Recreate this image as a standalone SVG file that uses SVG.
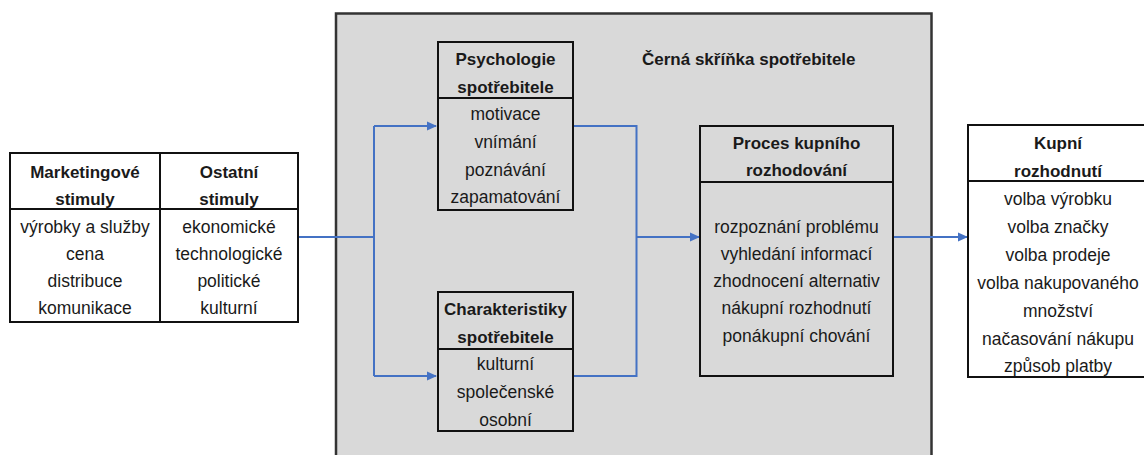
<svg xmlns="http://www.w3.org/2000/svg" width="1144" height="455" viewBox="0 0 1144 455">
<defs>
<style>
text{font-family:"Liberation Sans",Arial,sans-serif;font-size:17.5px;fill:#1a1a1a;text-anchor:middle;dominant-baseline:central}
.b{font-weight:bold;font-size:17px}
.box{fill:#fff;stroke:#111;stroke-width:2}
.gbox{fill:#d9d9d9;stroke:#111;stroke-width:2}
.ln{fill:none;stroke:#111;stroke-width:2}
.c{fill:none;stroke:#4472c4;stroke-width:2}
</style>
<marker id="ar" markerWidth="10" markerHeight="10" refX="9" refY="5" orient="auto" markerUnits="userSpaceOnUse">
<path d="M0,0.5 L10,5 L0,9.5 Z" fill="#4472c4"/>
</marker>
</defs>
<rect width="1144" height="455" fill="#fff"/>
<g id="black-box">
<rect x="336" y="13.5" width="595.5" height="450" fill="#d9d9d9" stroke="#333" stroke-width="2.5"/>
<text class="b" x="642" y="59" style="text-anchor:start">Černá skříňka spotřebitele</text>
</g>
<g id="connectors">
<path class="c" d="M298,237 H374"/>
<path class="c" d="M374,126 V376"/>
<path class="c" d="M374,126 H436" marker-end="url(#ar)"/>
<path class="c" d="M374,376 H436" marker-end="url(#ar)"/>
<path class="c" d="M573,126 H636.5 V376 H573"/>
<path class="c" d="M636.5,237 H699" marker-end="url(#ar)"/>
<path class="c" d="M893,237 H967" marker-end="url(#ar)"/>
</g>
<g id="stimuli">
<rect class="box" x="10" y="153" width="288" height="169"/>
<path class="ln" d="M10,209 H298 M160,153 V322"/>
<text class="b" x="85" y="172">Marketingové</text>
<text class="b" x="85" y="199">stimuly</text>
<text x="85" y="227">výrobky a služby</text>
<text x="85" y="254">cena</text>
<text x="85" y="281">distribuce</text>
<text x="85" y="308">komunikace</text>
<text class="b" x="229" y="172">Ostatní</text>
<text class="b" x="229" y="199">stimuly</text>
<text x="229" y="227">ekonomické</text>
<text x="229" y="254">technologické</text>
<text x="229" y="281">politické</text>
<text x="229" y="308">kulturní</text>
</g>
<g id="psychologie">
<rect class="gbox" x="438" y="42" width="135" height="168"/>
<path class="ln" d="M438,98 H573"/>
<text class="b" x="505.5" y="59">Psychologie</text>
<text class="b" x="505.5" y="87">spotřebitele</text>
<text x="505.5" y="114">motivace</text>
<text x="505.5" y="142">vnímání</text>
<text x="505.5" y="170">poznávání</text>
<text x="505.5" y="197">zapamatování</text>
</g>
<g id="charakteristiky">
<rect class="gbox" x="438" y="292" width="135" height="139"/>
<path class="ln" d="M438,349 H573"/>
<text class="b" x="505.5" y="309">Charakteristiky</text>
<text class="b" x="505.5" y="337">spotřebitele</text>
<text x="505.5" y="364">kulturní</text>
<text x="505.5" y="392">společenské</text>
<text x="505.5" y="420">osobní</text>
</g>
<g id="proces">
<rect class="gbox" x="700" y="126" width="193" height="250"/>
<path class="ln" d="M700,182 H893"/>
<text class="b" x="796.5" y="143">Proces kupního</text>
<text class="b" x="796.5" y="170">rozhodování</text>
<text x="796.5" y="227">rozpoznání problému</text>
<text x="796.5" y="254">vyhledání informací</text>
<text x="796.5" y="281">zhodnocení alternativ</text>
<text x="796.5" y="308">nákupní rozhodnutí</text>
<text x="796.5" y="336">ponákupní chování</text>
</g>
<g id="kupni">
<rect class="box" x="968" y="125" width="185" height="252"/>
<path class="ln" d="M968,181 H1153"/>
<text class="b" x="1058" y="143">Kupní</text>
<text class="b" x="1058" y="171">rozhodnutí</text>
<text x="1058" y="199">volba výrobku</text>
<text x="1058" y="227">volba značky</text>
<text x="1058" y="255">volba prodeje</text>
<text x="1058" y="283">volba nakupovaného</text>
<text x="1058" y="311">množství</text>
<text x="1058" y="339">načasování nákupu</text>
<text x="1058" y="366">způsob platby</text>
</g>
</svg>
